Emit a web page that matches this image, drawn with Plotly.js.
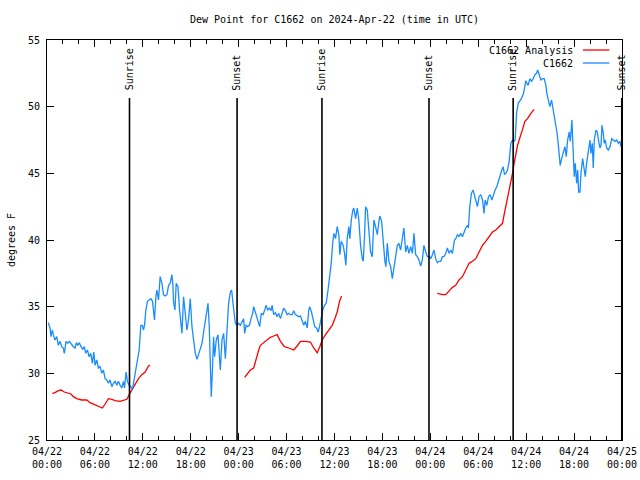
<!DOCTYPE html>
<html>
<head>
<meta charset="utf-8">
<script src="https://cdn.plot.ly/plotly-3.0.1.min.js"></script>
<style>html,body{margin:0;padding:0;background:#fff;}#chart{width:640px;height:480px;}</style>
</head>
<body>
<div id="chart"></div>
<script>
// Hours since 2024-04-22 00:00 UTC
const stationHours = [0.16,0.38,0.50,0.66,0.79,1.00,1.22,1.42,1.63,1.84,2.04,2.17,2.38,2.60,2.80,3.10,3.30,3.51,3.68,3.85,4.05,4.26,4.48,4.68,4.85,5.06,5.27,5.48,5.68,5.86,6.02,6.23,6.44,6.65,6.86,7.06,7.28,7.49,7.69,7.90,8.12,8.32,8.53,8.74,8.94,9.16,9.37,9.57,9.70,9.91,10.07,10.29,10.50,10.70,10.91,11.13,11.33,11.54,11.75,11.95,12.08,12.21,12.38,12.58,12.79,13.01,13.21,13.33,13.46,13.64,13.76,13.96,14.17,14.39,14.59,14.80,15.02,15.22,15.43,15.64,15.77,15.84,16.02,16.18,16.40,16.60,16.77,16.90,17.10,17.31,17.52,17.72,17.94,18.15,18.35,18.57,18.78,18.98,19.19,19.41,19.61,19.82,20.03,20.16,20.32,20.45,20.57,20.70,20.86,20.99,21.20,21.41,21.58,21.70,21.91,22.12,22.33,22.54,22.74,22.96,23.12,23.29,23.46,23.58,23.80,24.00,24.21,24.42,24.62,24.75,24.93,25.13,25.34,25.55,25.75,25.88,26.09,26.30,26.51,26.63,26.84,27.06,27.26,27.43,27.63,27.85,28.06,28.19,28.39,28.60,28.81,29.01,29.23,29.44,29.64,29.86,30.07,30.27,30.48,30.70,30.90,31.11,31.32,31.52,31.74,31.95,32.15,32.36,32.58,32.78,32.90,33.12,33.33,33.53,33.74,33.96,34.16,34.37,34.53,34.75,34.96,35.16,35.37,35.59,35.79,35.94,36.13,36.34,36.54,36.67,36.84,37.09,37.26,37.42,37.59,37.80,37.92,38.10,38.30,38.42,38.64,38.85,39.05,39.26,39.48,39.60,39.77,39.89,40.10,40.30,40.52,40.73,40.93,41.14,41.36,41.56,41.68,41.90,42.11,42.31,42.44,42.61,42.81,43.03,43.24,43.44,43.65,43.87,44.07,44.28,44.49,44.69,44.91,45.12,45.32,45.54,45.75,45.95,46.16,46.38,46.58,46.79,47.00,47.20,47.42,47.63,47.92,48.04,48.26,48.46,48.67,48.88,49.09,49.30,49.51,49.71,49.93,50.14,50.34,50.55,50.77,50.89,51.02,51.18,51.39,51.59,51.81,52.02,52.22,52.43,52.65,52.77,52.94,53.15,53.35,53.56,53.69,53.90,54.10,54.32,54.53,54.73,54.86,55.07,55.28,55.48,55.70,55.91,56.11,56.32,56.54,56.74,56.95,57.11,57.29,57.45,57.66,57.87,58.08,58.29,58.46,58.62,58.80,59.00,59.21,59.40,59.67,59.84,59.96,60.09,60.25,60.46,60.68,60.88,61.09,61.30,61.43,61.63,61.84,62.06,62.26,62.47,62.59,62.81,62.97,63.18,63.35,63.51,63.69,63.85,64.01,64.14,64.26,64.44,64.64,64.85,65.02,65.19,65.39,65.52,65.61,65.73,65.86,66.02,66.15,66.32,66.45,66.57,66.74,66.86,67.07,67.27,67.40,67.57,67.78,67.99,68.11,68.28,68.40,68.53,68.74,68.90,69.08,69.24,69.37,69.49,69.66,69.78,69.91,70.08,70.28,70.50,70.71,70.91,71.12,71.34,71.54,71.75,71.87,72.00];
const stationDew = [33.8,33.4,32.75,33.25,32.9,32.5,32.75,32.1,32.4,32.0,31.9,31.5,32.4,32.25,32.4,32.1,32.0,31.9,32.3,32.1,32.3,32.0,31.8,32.0,31.5,31.75,31.25,31.5,30.75,31.6,30.6,31.0,30.4,30.5,30.0,30.25,29.6,29.5,29.25,29.5,29.0,29.25,29.4,29.1,29.4,29.1,28.9,29.4,28.9,30.1,29.4,29.1,29.0,28.8,29.6,30.25,31.0,31.75,33.6,33.6,33.25,33.6,34.75,35.4,35.5,35.6,35.4,34.5,34.0,35.75,36.25,35.5,37.25,36.75,35.9,35.8,35.9,36.6,36.75,37.4,36.6,35.4,34.75,36.75,36.5,34.75,33.75,33.0,35.75,34.5,33.25,34.0,35.6,33.5,32.5,31.5,31.05,31.4,31.75,32.25,33.1,33.9,35.0,35.25,33.5,29.75,28.25,30.0,32.75,31.25,32.5,32.9,31.25,30.25,32.5,33.0,31.1,33.0,35.25,36.1,36.25,35.25,34.1,33.75,33.6,33.75,33.6,33.9,34.1,33.0,33.6,33.5,33.6,34.1,34.5,35.0,34.6,34.25,33.9,33.5,34.5,34.4,34.75,35.1,34.75,34.9,34.7,35.1,34.4,34.55,34.25,34.5,34.1,34.5,34.9,34.7,34.4,34.5,34.4,34.4,34.7,34.4,34.3,34.25,34.3,33.9,33.6,33.9,33.4,34.75,35.0,34.6,34.1,33.5,33.4,33.1,33.6,34.25,34.75,35.1,35.25,36.1,37.0,38.25,39.9,40.5,40.1,41.0,40.4,38.9,39.9,39.6,39.0,38.1,40.1,41.0,40.1,41.5,42.25,42.4,41.6,42.4,41.5,39.6,38.6,38.4,40.4,42.5,42.25,40.9,39.1,38.75,41.5,41.0,40.4,41.4,41.8,41.4,39.4,38.4,38.0,39.75,38.4,38.0,37.1,37.9,38.6,39.6,39.75,39.25,40.1,40.9,39.1,39.6,39.0,39.5,39.0,40.5,38.9,38.75,38.5,38.05,38.5,39.6,39.1,38.75,38.75,38.6,38.9,39.25,38.6,38.3,38.4,38.4,38.75,38.75,39.0,39.4,39.0,39.25,39.0,39.6,40.0,40.1,40.4,40.25,40.5,40.25,40.6,40.9,41.1,40.9,42.5,43.5,43.75,43.25,42.9,42.5,43.25,43.4,43.0,42.0,43.0,42.6,43.25,43.4,43.0,43.5,43.75,44.0,44.5,44.75,45.25,45.5,44.9,45.0,45.25,45.9,47.25,47.5,47.4,47.5,49.5,50.25,50.4,50.6,51.0,51.5,51.95,51.75,51.6,52.1,51.9,52.1,52.4,52.5,52.75,52.4,52.0,52.1,52.1,51.6,51.0,50.4,50.0,50.5,49.9,49.6,48.9,48.1,47.25,46.25,45.6,46.1,46.6,47.0,46.25,47.5,48.1,47.4,48.0,49.0,47.0,44.75,45.75,44.25,45.25,43.6,43.6,45.0,46.1,45.4,44.75,45.75,46.75,47.5,46.5,47.25,45.4,47.5,48.25,48.1,47.4,46.9,47.1,48.6,48.0,47.25,47.5,46.9,46.75,47.0,47.6,47.5,47.4,47.5,47.25,47.4,47.0,47.25];

// Analysis: three separate segments (null marks a gap)
const analysisHours = [0.66,1.00,1.42,1.76,2.17,2.60,3.01,3.30,3.73,4.35,4.98,5.39,5.81,6.44,6.94,7.28,7.69,8.12,8.53,9.16,9.78,10.00,10.29,10.62,11.04,11.45,11.88,12.29,12.71,12.92,
  18.0,
  24.75,25.05,25.46,25.88,26.18,26.51,26.72,27.13,27.56,27.97,28.39,28.81,29.23,29.73,30.27,30.90,31.32,31.74,32.36,32.99,33.40,33.83,34.16,34.46,34.87,35.29,35.71,36.04,36.34,36.63,36.88,
  42.0,
  48.88,49.51,49.93,50.34,50.77,51.18,51.59,52.02,52.43,52.85,53.27,53.69,54.10,54.53,54.94,55.36,55.78,56.20,56.61,57.04,57.24,57.45,57.66,57.87,58.08,58.29,58.49,58.70,58.92,59.12,59.33,59.55,59.84,60.17,60.59,61.00];
const analysisDew = [28.5,28.55,28.7,28.75,28.6,28.5,28.45,28.25,28.1,28.0,28.0,27.8,27.7,27.55,27.4,27.7,28.1,28.05,27.95,27.9,28.0,28.05,28.4,28.75,29.1,29.6,29.9,30.1,30.55,30.6,
  null,
  29.7,29.9,30.25,30.4,31.1,31.75,32.1,32.3,32.5,32.7,32.8,32.9,32.4,32.0,31.9,31.75,32.05,32.4,32.4,32.35,31.9,31.55,32.0,32.5,32.9,33.25,33.6,34.1,34.6,35.4,35.8,
  null,
  36.0,35.9,35.9,36.2,36.45,36.6,37.0,37.25,37.75,38.25,38.4,38.6,39.1,39.6,39.9,40.25,40.6,40.75,41.0,41.25,41.9,42.5,43.25,43.75,44.25,45.0,45.75,46.5,47.1,47.5,48.0,48.3,48.9,49.1,49.5,49.8];

const sunLabels = ["Sunrise","Sunset","Sunrise","Sunset","Sunrise","Sunset"];
const sunHours = [10.33,23.80,34.43,47.83,58.37,71.97];

const seriesNames = ["C1662 Analysis","C1662"];
const seriesColors = ["#ff0000","#1a8cff"];

function toTime(h){
  if (h === null) return null;
  const d = new Date(Date.UTC(2024,3,22) + Math.round(h*3600)*1000);
  return d.toISOString().replace('T',' ').slice(0,19);
}

const FONT = "DejaVu Sans Mono, monospace";

const traces = [
  {x: analysisHours.map(toTime), y: analysisDew, type:'scatter', mode:'lines', name: seriesNames[0],
   line:{color: seriesColors[0], width:1.3}, connectgaps:false},
  {x: stationHours.map(toTime), y: stationDew, type:'scatter', mode:'lines', name: seriesNames[1],
   line:{color: seriesColors[1], width:1.3}}
];

const shapes = [];
const annotations = [];
sunHours.forEach((h,i)=>{
  shapes.push({type:'line', xref:'x', yref:'paper', x0:toTime(h), x1:toTime(h), y0:0, y1:0.855,
    line:{color:'#000', width:1.6}});
  annotations.push({xref:'x', yref:'paper', x:toTime(h), y:0.868, text:sunLabels[i], textangle:-90,
    showarrow:false, xanchor:'center', yanchor:'bottom', font:{family:FONT, size:10, color:'#000'}});
});
// Legend (text right, sample line to the right of text)
const legY = [0.975, 0.9425];
seriesNames.forEach((n,i)=>{
  annotations.push({xref:'paper', yref:'paper', x:0.919, y:legY[i], text:n, showarrow:false,
    xanchor:'right', yanchor:'middle', font:{family:FONT, size:10, color:'#000'}});
  shapes.push({type:'line', xref:'paper', yref:'paper', x0:0.932, x1:0.978, y0:legY[i], y1:legY[i],
    line:{color:seriesColors[i], width:1.3}});
});

const layout = {
  width:640, height:480,
  margin:{l:47, r:18, t:40, b:40},
  paper_bgcolor:'#fff', plot_bgcolor:'#fff',
  showlegend:false,
  font:{family:FONT, size:10, color:'#000'},
  title:{text:'Dew Point for C1662 on 2024-Apr-22 (time in UTC)', x:0.5, xref:'paper', xanchor:'center',
    y:0.96, yanchor:'middle', yref:'container', font:{family:FONT, size:10, color:'#000'}},
  xaxis:{type:'date', range:[toTime(0), toTime(72)], tickformat:'%m/%d<br>%H:%M',
    dtick:6*3600*1000, tick0:toTime(0), ticks:'inside', ticklen:7, tickcolor:'#000', tickwidth:1,
    minor:{dtick:2*3600*1000, ticks:'inside', ticklen:4, tickcolor:'#000'},
    ticklabelstandoff:2,
    showline:true, linecolor:'#000', linewidth:1, mirror:'allticks', showgrid:false, zeroline:false,
    tickfont:{family:FONT, size:10, color:'#000'}},
  yaxis:{range:[25,55], dtick:5, ticks:'inside', ticklen:7, tickcolor:'#000',
    ticklabelstandoff:4,
    showline:true, linecolor:'#000', linewidth:1, mirror:'allticks', showgrid:false, zeroline:false,
    tickfont:{family:FONT, size:10, color:'#000'},
    title:{text:'degrees F', standoff:10, font:{family:FONT, size:10, color:'#000'}}},
  shapes: shapes,
  annotations: annotations
};

Plotly.newPlot('chart', traces, layout, {staticPlot:true, displayModeBar:false});
</script>
</body>
</html>
